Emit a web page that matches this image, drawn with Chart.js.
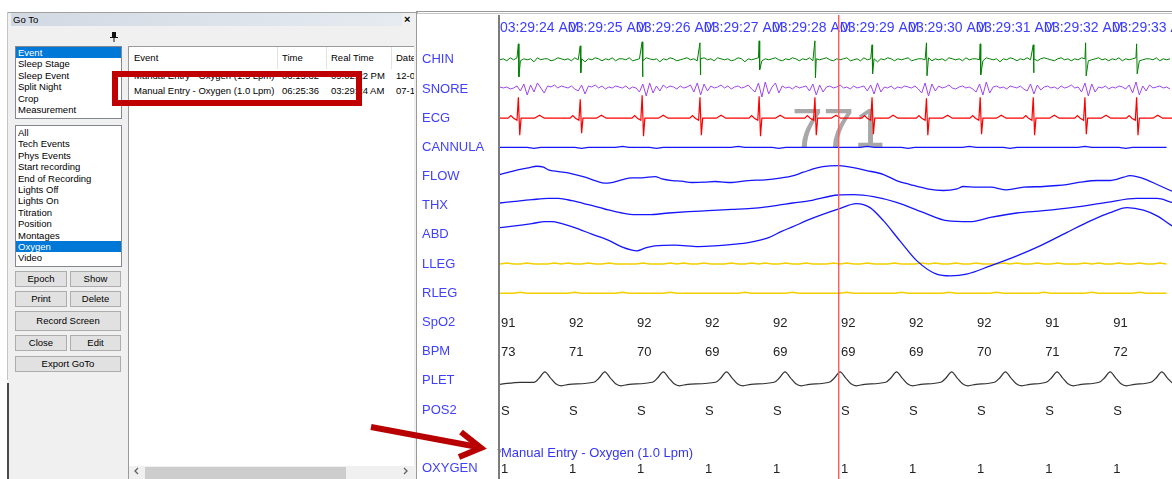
<!DOCTYPE html>
<html lang="en">
<head>
<meta charset="UTF-8">
<title>Go To - Oxygen</title>
<script src="https://cdn.jsdelivr.net/npm/chart.js"></script>
<style>
  body { margin: 0; width: 1172px; height: 479px; overflow: hidden; background: #fff;
         font-family: "Liberation Sans", Arial, sans-serif; position: relative; }
  .a { position: absolute; }
  .ui { font-size: 9.5px; color: #000; white-space: nowrap; }
  .list { position: absolute; background: #fff; border: 1px solid #828790; box-sizing: border-box; }
  .list div { height: 11.4px; line-height: 11.4px; padding-left: 2px; }
  .list .sel { background: #0078d7; color: #fff; }
  .btn { position: absolute; background: #e1e1e1; border: 1px solid #adadad; box-sizing: border-box;
         text-align: center; font-size: 9.5px; }
  .cell { position: absolute; font-size: 9.5px; white-space: nowrap; line-height: 12px; }
  #psg { position: absolute; left: 417px; top: 15px; width: 755px; height: 464px; }
</style>
</head>
<body>
<!-- Go To window -->
<div class="a" style="left:8px;top:13px;width:408px;height:466px;background:#f0f0f0"></div>
<div class="a" style="left:7px;top:12px;width:411px;height:1px;background:#a0a0a0"></div>
<div class="a" style="left:7px;top:12px;width:1px;height:368px;background:#c4c4c4"></div>
<div class="a" style="left:7px;top:383px;width:2px;height:96px;background:#4a4a4a"></div>
<div class="a ui" style="left:11px;top:13px;width:389px;height:13px;line-height:13px;padding-left:2px;background:linear-gradient(to right,#d2d9e3,#e6ebf1)">Go To</div>
<div class="a" style="left:404px;top:13px;font:bold 11px 'Liberation Sans',Arial;line-height:13px">×</div>

<div class="list ui" style="left:15px;top:46px;width:107px;height:73px">
  <div class="sel">Event</div><div>Sleep Stage</div><div>Sleep Event</div>
  <div>Split Night</div><div>Crop</div><div>Measurement</div>
</div>
<div class="list ui" style="left:15px;top:125px;width:107px;height:142px;padding-top:1px">
  <div>All</div><div>Tech Events</div><div>Phys Events</div><div>Start recording</div>
  <div>End of Recording</div><div>Lights Off</div><div>Lights On</div><div>Titration</div>
  <div>Position</div><div>Montages</div><div class="sel">Oxygen</div><div>Video</div>
</div>

<div class="btn" style="left:15px;top:271px;width:52px;height:16px;line-height:14px">Epoch</div>
<div class="btn" style="left:70px;top:271px;width:51px;height:16px;line-height:14px">Show</div>
<div class="btn" style="left:15px;top:291px;width:52px;height:16px;line-height:14px">Print</div>
<div class="btn" style="left:70px;top:291px;width:51px;height:16px;line-height:14px">Delete</div>
<div class="btn" style="left:15px;top:311px;width:106px;height:20px;line-height:18px">Record Screen</div>
<div class="btn" style="left:15px;top:335px;width:52px;height:16px;line-height:14px">Close</div>
<div class="btn" style="left:70px;top:335px;width:51px;height:16px;line-height:14px">Edit</div>
<div class="btn" style="left:15px;top:356px;width:106px;height:16px;line-height:14px">Export GoTo</div>

<!-- event table -->
<div class="a" style="left:128px;top:46px;width:286px;height:433px;background:#fff;border-left:1px solid #9a9a9a;border-top:1px solid #9a9a9a;box-sizing:border-box;overflow:hidden">
  <div class="a" style="left:148px;top:0;width:1px;height:22px;background:#e3e3e3"></div>
  <div class="a" style="left:197px;top:0;width:1px;height:22px;background:#e3e3e3"></div>
  <div class="a" style="left:262px;top:0;width:1px;height:22px;background:#e3e3e3"></div>
  <div class="cell" style="left:5px;top:5px">Event</div>
  <div class="cell" style="left:153px;top:5px">Time</div>
  <div class="cell" style="left:202px;top:5px">Real Time</div>
  <div class="cell" style="left:267px;top:5px">Date</div>
  <div class="cell" style="left:5px;top:23px">Manual Entry - Oxygen (1.5 Lpm)</div>
  <div class="cell" style="left:153px;top:23px">06:15:32</div>
  <div class="cell" style="left:202px;top:23px">09:02:22 PM</div>
  <div class="cell" style="left:267px;top:23px">12-01</div>
  <div class="cell" style="left:5px;top:38px">Manual Entry - Oxygen (1.0 Lpm)</div>
  <div class="cell" style="left:153px;top:38px">06:25:36</div>
  <div class="cell" style="left:202px;top:38px">03:29:24 AM</div>
  <div class="cell" style="left:267px;top:38px">07-12</div>
  <div class="a" style="left:0;top:419px;width:286px;height:14px;background:#f0f0f0"></div>
  <div class="a" style="left:16px;top:420px;width:201px;height:12px;background:#cdcdcd"></div>
</div>

<!-- signal window frame -->
<div class="a" style="left:416px;top:11px;width:756px;height:1px;background:#9a9a9a"></div>
<div class="a" style="left:416px;top:13px;width:756px;height:1px;background:#c6c6c6"></div>
<div class="a" style="left:416px;top:11px;width:1px;height:468px;background:#9a9a9a"></div>
<div id="psg"><canvas id="myChart"></canvas></div>

<!-- markup drawn on the screenshot -->
<svg class="a" style="left:0;top:0" width="1172" height="479">
  <g fill="#111">
    <rect x="112" y="32" width="4" height="5"/>
    <rect x="110" y="37" width="8" height="1"/>
    <rect x="113.5" y="38" width="1" height="4"/>
  </g>
  <polyline points="138,468 135,471 138,474" fill="none" stroke="#606060" stroke-width="1.3"/>
  <polyline points="404,468 407,471 404,474" fill="none" stroke="#606060" stroke-width="1.3"/>
  <rect x="115" y="74" width="244" height="29" fill="none" stroke="#c00000" stroke-width="6"/>
  <g stroke="#b80000" stroke-width="6" fill="none">
    <line x1="371" y1="427" x2="478" y2="447"/>
    <polyline points="461,432 481,448 459,457"/>
  </g>
</svg>

<script>
    // time axis (one label per second) and channels, top to bottom
    const timeLabels = ['03:29:24 AM', '03:29:25 AM', '03:29:26 AM', '03:29:27 AM', '03:29:28 AM',
                        '03:29:29 AM', '03:29:30 AM', '03:29:31 AM', '03:29:32 AM', '03:29:33 AM'];
    const channelNames = ['CHIN', 'SNORE', 'ECG', 'CANNULA', 'FLOW', 'THX', 'ABD', 'LLEG', 'RLEG',
                          'SpO2', 'BPM', 'PLET', 'POS2', '', 'OXYGEN'];
    const spo2Values = [91, 92, 92, 92, 92, 92, 92, 92, 91, 91];
    const bpmValues = [73, 71, 70, 69, 69, 69, 69, 70, 71, 72];
    const pos2Values = ['S', 'S', 'S', 'S', 'S', 'S', 'S', 'S', 'S', 'S'];
    const oxygenValues = [1, 1, 1, 1, 1, 1, 1, 1, 1, 1];
    const eventText = 'Manual Entry - Oxygen (1.0 Lpm)';
    const epochNumber = '771';
    const cursorTime = 4.98;
    const epochSeconds = 9.88;
    const unitsPerRow = 29.2;

    // signals in display units (one row = 29.2), [seconds, value] or evenly sampled
    const chinNoise = [ // every 0.05 s
        0,1,-1,2,0,2,-1,1,0,1,-2,2,0,1,1,-1,0,2,1,0,
        1,-1,2,0,1,-2,1,0,2,1,-1,1,0,2,-1,1,1,0,2,-1,
        0,1,-1,2,1,0,1,-2,1,0,2,1,-1,0,1,2,0,1,-1,1,
        2,0,1,-1,2,1,0,1,-1,0,2,1,-2,1,0,1,2,-1,1,0,
        1,2,0,-1,1,0,2,1,-1,1,0,2,-1,1,0,1,2,0,-1,1,
        0,1,2,-1,0,1,-1,2,0,1,1,-2,1,0,2,1,-1,1,0,1,
        2,-1,0,1,1,0,2,-1,1,0,1,-1,2,1,0,1,-1,2,0,1,
        1,0,-1,2,1,0,1,-2,1,0,2,1,-1,1,0,2,0,1,-1,1,
        2,1,0,-1,1,2,0,1,-1,1,0,2,1,-1,0,1,2,0,1,-1,
        1,0,2,-1,1,0,1,2,-1,0,1,1,0,2,-1,1,0,1];
    const chinSpikes = [[0.27,16],[0.278,-17],[1.18,14],[1.188,-13],[2.09,18],[2.098,-17],
        [2.94,17],[2.948,-15],[3.81,19],[3.818,-10],[4.63,19],[4.638,-18],[5.47,15],[5.478,-14],
        [6.27,17],[6.278,-16],[7.06,16],[7.068,-15],[7.84,15],[7.848,-13],[8.61,17],[8.618,-16],
        [9.36,16],[9.368,-14]];
    const snoreValues = [ // every 0.05 s
        2,1,2,0,1,3,-2,5,-6,4,-3,6,1,-4,3,2,4,1,3,2,
        1,3,0,-2,4,-5,3,2,4,1,3,0,2,1,3,2,1,3,0,2,
        1,-3,5,-7,6,-4,3,-2,4,1,3,2,0,3,1,2,4,-3,6,-6,
        5,-2,3,1,2,4,1,3,0,2,3,1,2,4,0,-3,6,-8,7,-5,
        2,6,-4,3,1,2,0,3,1,2,3,-2,5,-6,4,-3,2,3,1,2,
        4,1,2,0,3,1,2,3,-2,4,-5,6,-3,2,1,3,0,2,1,3,
        2,1,3,0,-4,6,-7,5,-2,3,1,2,4,1,0,2,3,1,2,0,
        -3,5,-6,7,-4,2,3,1,2,0,3,2,1,3,0,-2,5,-5,4,-1,
        2,3,1,2,0,3,1,2,4,1,2,-3,6,-7,5,-3,2,1,3,0,
        2,1,3,2,0,4,-4,7,-6,3,-2,4,1,2,3,1,2,0];
    const ecgPoints = [[0,0],
        [0.12,0],[0.16,2.5],[0.20,0],[0.25,-2],[0.27,21],[0.29,-17],[0.31,0],[0.51,0],[0.58,3],[0.65,0],
        [1.03,0],[1.07,2.5],[1.11,0],[1.16,-2],[1.18,19],[1.20,-15],[1.22,0],[1.42,0],[1.49,3],[1.56,0],
        [1.94,0],[1.98,2.5],[2.02,0],[2.07,-2],[2.09,23],[2.11,-18],[2.13,0],[2.33,0],[2.40,3],[2.47,0],
        [2.79,0],[2.83,2.5],[2.87,0],[2.92,-2],[2.94,21],[2.96,-17],[2.98,0],[3.18,0],[3.25,3],[3.32,0],
        [3.66,0],[3.70,2.5],[3.74,0],[3.79,-2],[3.81,22],[3.83,-18],[3.85,0],[4.05,0],[4.12,3],[4.19,0],
        [4.48,0],[4.52,2.5],[4.56,0],[4.61,-2],[4.63,21],[4.65,-17],[4.67,0],[4.87,0],[4.94,3],[5.01,0],
        [5.32,0],[5.36,2.5],[5.40,0],[5.45,-2],[5.47,21],[5.49,-16],[5.51,0],[5.71,0],[5.78,3],[5.85,0],
        [6.12,0],[6.16,2.5],[6.20,0],[6.25,-2],[6.27,20],[6.29,-17],[6.31,0],[6.51,0],[6.58,3],[6.65,0],
        [6.91,0],[6.95,2.5],[6.99,0],[7.04,-2],[7.06,21],[7.08,-16],[7.10,0],[7.30,0],[7.37,3],[7.44,0],
        [7.69,0],[7.73,2.5],[7.77,0],[7.82,-2],[7.84,21],[7.86,-17],[7.88,0],[8.08,0],[8.15,3],[8.22,0],
        [8.45,0],[8.49,2.5],[8.53,0],[8.58,-2],[8.60,21],[8.62,-16],[8.64,0],[8.84,0],[8.91,3],[8.98,0],
        [9.21,0],[9.25,2.5],[9.29,0],[9.34,-2],[9.36,21],[9.38,-17],[9.40,0],[9.60,0],[9.67,3],[9.74,0],
        [9.88,0]];
    const cannulaValues = [ // every 0.1 s
        0,0,0,0,0,-1,0,0,0,0, 0,0,-1,0,0,0,0,0,1,0, 0,0,0,-1,0,0,0,0,0,0,
        0,0,0,0,0,1,0,0,0,0, 0,-1,0,0,0,0,0,0,0,0, 0,0,0,0,1,0,0,0,0,0,
        -1,0,0,0,0,0,0,0,0,1, 0,0,0,0,0,-1,0,0,0,0, 0,0,0,0,0,0,1,0,0,0,
        0,0,-1,0,0,0,0,0,0];
    const flowPoints = [[0,2],[0.22,6],[0.42,8.7],[0.54,10.3],[0.64,9.3],[0.71,6.7],[0.86,5],
        [1.06,2.7],[1.25,-0.7],[1.42,-4.7],[1.54,-6.7],[1.64,-6],[1.79,-3.3],[1.94,-1.3],[2.08,-1.3],
        [2.28,0],[2.38,-2.3],[2.53,-4],[2.67,-4.7],[2.82,-6],[3.01,-5.7],[3.16,-5],[3.41,-6],
        [3.65,-4],[3.90,-3.3],[4.14,-1.3],[4.30,0.7],[4.46,4.3],[4.66,8.7],[4.85,10.7],[4.97,11],
        [5.15,9.3],[5.39,6],[5.64,2],[5.83,-4],[6.03,-8],[6.28,-12.3],[6.52,-14],[6.72,-12.3],
        [6.81,-10],[7.01,-10.7],[7.21,-10.7],[7.45,-13.3],[7.70,-10.7],[7.99,-10],[8.19,-9],
        [8.33,-8],[8.53,-5.7],[8.78,-4],[8.97,-4],[9.17,-0.7],[9.26,1],[9.36,0],[9.51,-3.3],
        [9.66,-8],[9.88,-14.7]];
    const thxPoints = [[0,2.7],[0.22,4.3],[0.47,6],[0.71,7.3],[0.86,7.3],[1.06,5],[1.30,1],
        [1.54,-3.3],[1.79,-7.3],[1.99,-9],[2.18,-9],[2.48,-7.3],[2.77,-6],[3.06,-5],[3.41,-3.7],
        [3.65,-3],[3.95,-1],[4.14,1],[4.30,2.7],[4.56,5],[4.97,10.7],[5.20,11],[5.49,9],[5.83,3.3],
        [6.22,-6.7],[6.57,-15],[6.91,-16],[7.21,-11.7],[7.60,-7.3],[7.99,-5],[8.43,-1.7],[8.92,3.3],
        [9.36,7.3],[9.66,7.3],[9.88,3.3]];
    const abdPoints = [[0,7.3],[0.22,9],[0.47,11.3],[0.66,13.3],[0.76,13.3],[0.91,11.3],[1.10,7.3],
        [1.35,0.7],[1.59,-5.3],[1.79,-12],[1.94,-15.3],[2.01,-16],[2.13,-13.3],[2.28,-11],
        [2.57,-10.3],[2.92,-11.7],[3.16,-11],[3.46,-9.3],[3.65,-7.7],[3.95,-2.7],[4.14,3.5],
        [4.30,8],[4.56,15.7],[4.97,25.7],[5.24,31.3],[5.44,27.3],[5.64,14],[5.88,-6],[6.13,-26],
        [6.42,-39.3],[6.62,-41],[6.86,-39.3],[7.21,-31],[7.60,-21],[7.94,-11],[8.33,2.3],
        [8.68,14],[8.97,22.3],[9.22,27.3],[9.46,24.7],[9.66,19],[9.88,9]];
    const llegValues = [ // every 0.1 s
        0,1,0,0,1,0,0,0,1,0, 1,0,0,1,0,0,1,0,0,0, 0,1,0,0,0,1,0,1,0,0,
        1,0,0,0,1,0,0,1,0,1, 0,0,1,0,0,1,0,0,0,1, 0,1,0,0,1,0,0,0,1,0,
        0,0,1,0,1,0,0,1,0,0, 1,0,0,0,1,0,1,0,0,1, 0,0,1,0,0,0,1,0,1,0,
        0,1,0,0,1,0,0,1,0];
    const rlegValues = [ // every 0.1 s
        0,0,0,1,0,0,0,0,0,0, 0,1,0,0,0,0,0,0,1,0, 0,0,0,0,0,1,0,0,0,0,
        0,0,0,0,0,0,1,0,0,0, 0,0,0,1,0,0,0,0,0,0, 0,1,0,0,0,0,0,0,0,1,
        0,0,0,0,0,0,1,0,0,0, 0,0,0,1,0,0,0,0,0,0, 1,0,0,0,0,0,0,1,0,0,
        0,0,0,0,1,0,0,0,0];
    const pletPoints = [[0,-3.5],[0.30,-1.5],
        [0.50,-1.5],[0.58,3],[0.66,9],[0.74,3],[0.82,-3],[0.90,-5],[1.02,-3.5],
        [1.38,-1.5],[1.46,3],[1.54,9],[1.62,3],[1.70,-3],[1.78,-5],[1.90,-3.5],
        [2.24,-1.5],[2.32,3],[2.40,9],[2.48,3],[2.56,-3],[2.64,-5],[2.76,-3.5],
        [3.17,-1.5],[3.25,3],[3.33,9],[3.41,3],[3.49,-3],[3.57,-5],[3.69,-3.5],
        [4.03,-1.5],[4.11,3],[4.19,9],[4.27,3],[4.35,-3],[4.43,-5],[4.55,-3.5],
        [4.84,-1.5],[4.92,3],[5.00,9],[5.08,3],[5.16,-3],[5.24,-5],[5.36,-3.5],
        [5.67,-1.5],[5.75,3],[5.83,9],[5.91,3],[5.99,-3],[6.07,-5],[6.19,-3.5],
        [6.48,-1.5],[6.56,3],[6.64,9],[6.72,3],[6.80,-3],[6.88,-5],[7.00,-3.5],
        [7.27,-1.5],[7.35,3],[7.43,9],[7.51,3],[7.59,-3],[7.67,-5],[7.79,-3.5],
        [8.03,-1.5],[8.11,3],[8.19,9],[8.27,3],[8.35,-3],[8.43,-5],[8.55,-3.5],
        [8.81,-1.5],[8.89,3],[8.97,9],[9.05,3],[9.13,-3],[9.21,-5],[9.33,-3.5],
        [9.57,-1.5],[9.65,3],[9.73,9],[9.81,3],[9.88,-2]];

    const FONT = '"Liberation Sans", Arial, sans-serif';

    function sampled(values, dt) {
        return values.map((v, i) => [i * dt, v]);
    }
    function onRow(points, name) {
        const row = channelNames.indexOf(name);
        return points.map(([t, v]) => ({ x: t, y: row - v / unitsPerRow }));
    }
    function trace(name, points, color, width, smooth) {
        return {
            label: name,
            data: onRow(points, name),
            borderColor: color,
            borderWidth: width,
            pointRadius: 0,
            tension: smooth ? 0.4 : 0,
            cubicInterpolationMode: smooth ? 'monotone' : 'default'
        };
    }

    const chinPoints = sampled(chinNoise, 0.05).concat(chinSpikes).sort((a, b) => a[0] - b[0]);

    const psgText = {
        id: 'psgText',
        beforeDatasetsDraw(chart) {
            const { ctx, scales: { x, y } } = chart;
            ctx.save();
            ctx.font = '56px ' + FONT;
            ctx.fillStyle = '#a8a8a8';
            ctx.textBaseline = 'middle';
            ctx.fillText(epochNumber, x.getPixelForValue(4.29), y.getPixelForValue(2.47));
            ctx.restore();
        },
        afterDatasetsDraw(chart) {
            const { ctx, chartArea, scales: { x, y } } = chart;
            ctx.save();
            ctx.font = '13px ' + FONT;
            ctx.textBaseline = 'middle';
            ctx.fillStyle = '#222';
            [['SpO2', spo2Values], ['BPM', bpmValues], ['POS2', pos2Values], ['OXYGEN', oxygenValues]]
                .forEach(([name, vals]) => {
                    const py = y.getPixelForValue(channelNames.indexOf(name)) + 1;
                    vals.forEach((v, i) => ctx.fillText(String(v), x.getPixelForValue(i) + 1, py));
                });
            const ay = y.getPixelForValue(13.48);
            ctx.fillStyle = '#777';
            ctx.fillText('*', x.getPixelForValue(0) - 3, ay);
            ctx.fillStyle = '#3535f5';
            ctx.fillText(eventText, x.getPixelForValue(0) + 1, ay);

            // label column separator and cursor run the full height
            ctx.fillStyle = '#7c7c7c';
            ctx.fillRect(chartArea.left - 2, 0, 2, chart.height);
            ctx.strokeStyle = '#ff5a5a';
            ctx.lineWidth = 1.4;
            const cx = x.getPixelForValue(cursorTime);
            ctx.beginPath();
            ctx.moveTo(cx, 0);
            ctx.lineTo(cx, chart.height);
            ctx.stroke();
            ctx.restore();
        }
    };

    const ctx = document.getElementById('myChart').getContext('2d');
    const chart = new Chart(ctx, {
        type: 'line',
        data: {
            datasets: [
                trace('CHIN', chinPoints, '#008000', 1, false),
                trace('SNORE', sampled(snoreValues, 0.05), '#9d45ee', 1, false),
                trace('ECG', ecgPoints, '#ff0000', 1.2, false),
                trace('CANNULA', sampled(cannulaValues, 0.1), '#1515ff', 1.2, false),
                trace('FLOW', flowPoints, '#1515ff', 1.3, true),
                trace('THX', thxPoints, '#1515ff', 1.3, true),
                trace('ABD', abdPoints, '#1515ff', 1.3, true),
                trace('LLEG', sampled(llegValues, 0.1), '#f2d000', 1.5, false),
                trace('RLEG', sampled(rlegValues, 0.1), '#f2d000', 1.5, false),
                trace('PLET', pletPoints, '#333333', 1.2, true)
            ]
        },
        options: {
            responsive: true,
            maintainAspectRatio: false,
            animation: false,
            layout: { padding: { left: 5, top: 0, right: 0, bottom: 0 } },
            plugins: { legend: { display: false }, tooltip: { enabled: false } },
            scales: {
                x: {
                    type: 'linear',
                    position: 'top',
                    min: 0,
                    max: epochSeconds,
                    grid: { display: false },
                    border: { display: false },
                    afterBuildTicks: s => { s.ticks = timeLabels.map((_, i) => ({ value: i })); },
                    afterFit: s => { s.height = 21; s.paddingLeft = 0; s.paddingRight = 0; },
                    ticks: {
                        callback: v => timeLabels[v],
                        align: 'start',
                        autoSkip: false,
                        maxRotation: 0,
                        padding: -9,
                        color: '#3d3dff',
                        font: { family: FONT, size: 14 }
                    }
                },
                y: {
                    type: 'linear',
                    reverse: true,
                    min: -0.816,
                    max: 14.366,
                    grid: { display: false },
                    border: { display: false },
                    afterBuildTicks: s => { s.ticks = channelNames.map((_, i) => ({ value: i })); },
                    afterFit: s => { s.width = 78; s.paddingTop = 0; s.paddingBottom = 0; },
                    ticks: {
                        callback: v => channelNames[v],
                        crossAlign: 'far',
                        autoSkip: false,
                        color: '#4040ff',
                        font: { family: FONT, size: 13 }
                    }
                }
            }
        },
        plugins: [psgText]
    });
</script>
</body>
</html>
